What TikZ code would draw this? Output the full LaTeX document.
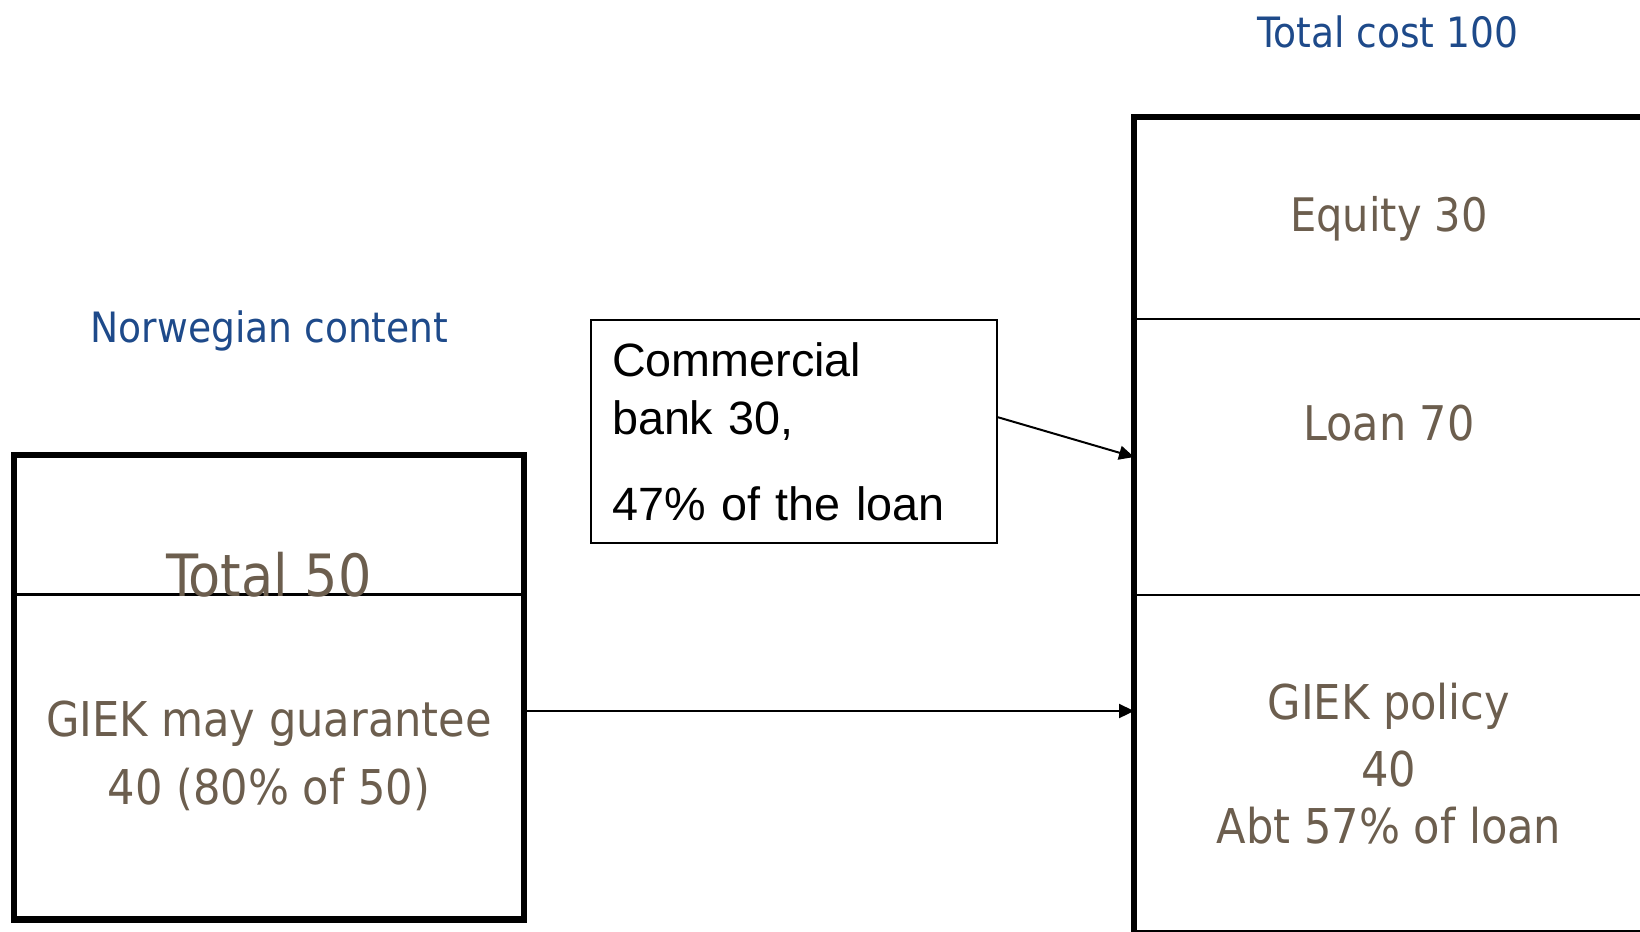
\documentclass[tikz,border=0pt]{standalone}
\usepackage{fontspec}
\setmainfont{DejaVu Sans Condensed}
\newfontfamily\arialfont{Liberation Sans}
\usetikzlibrary{arrows.meta}
\definecolor{brun}{RGB}{108,94,78}
\definecolor{bleu}{RGB}{30,74,138}

\begin{document}
\begin{tikzpicture}[x=0.02cm, y=-0.02cm,
    part/.style={draw, line width=0.04cm, minimum width=10.16cm, inner sep=0pt,
        text=brun, align=center, font=\fontsize{27.3}{38.5}\selectfont},
    brunt/.style={anchor=base, inner sep=0pt, text=brun},
    titre/.style={anchor=base, inner sep=0pt, text=bleu, font=\fontsize{23.8}{28}\selectfont},
    cadre/.style={line width=0.13cm},
    fleche/.style={line width=0.04cm, -{Triangle[length=0.3cm, width=0.28cm]}}]
    \clip (0,0) rectangle (1640,931);

    \node[titre] (cost) at (1388,47) {Total cost 100};
    \node[titre] (norsk) at (269.5,342) {Norwegian content};

    % total cost
    \node[part, minimum height=4.02cm, font=\fontsize{26.3}{30}\selectfont] (equity) at (1389,218.5) {Equity 30};
    \node[part, minimum height=5.52cm] (loan) at (1389,457) {};
    \node[part, minimum height=6.74cm] (giek) at (1389,763.5) {GIEK policy\\40\\[-6.2pt]Abt 57\% of loan};
    \draw[cadre] (equity.north west) rectangle (giek.south east);
    \node[brunt, font=\fontsize{27.2}{30}\selectfont] (loantxt) at (1389,440) {Loan 70};

    % norwegian content
    \node[part, minimum height=2.78cm] (total) at (269,525.5) {};
    \node[part, minimum height=6.5cm] (guar) at (269,756) {GIEK may guarantee\\40 (80\% of 50)};
    \draw[cadre] (total.north west) rectangle (guar.south east);
    \node[brunt, font=\fontsize{33.2}{36}\selectfont] (totaltxt) at (269,596) {Total 50};

    \node[draw, line width=0.04cm, minimum height=4.46cm, text width=7.28cm,
        inner xsep=0.42cm, inner ysep=0pt, align=left,
        font=\arialfont\fontsize{26.6}{33.4}\selectfont] (bank) at (794,431.5)
        {Commercial\\bank 30,\\[15.4pt]47\% of the loan};

    \coordinate (lvl) at (0,711);
    \draw[fleche] (bank.4.5) -- (loan.west);
    \draw[fleche] (guar.east |- lvl) -- (giek.west |- lvl);
\end{tikzpicture}
\end{document}
